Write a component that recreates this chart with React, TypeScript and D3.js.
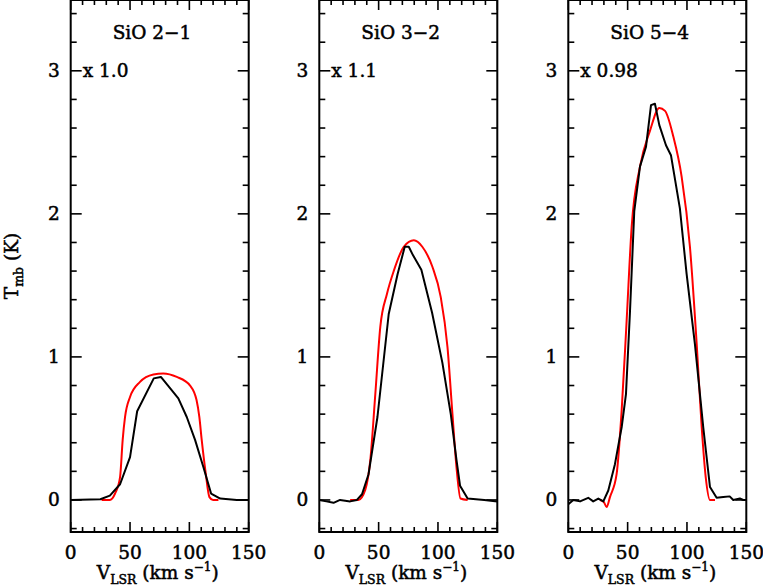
import * as d3 from "d3";

// velocity (km/s) and main-beam temperature (K)
const lines = ["SiO 2\u22121", "SiO 3\u22122", "SiO 5\u22124"];
const scales = ["x 1.0", "x 1.1", "x 0.98"];

const obs21V = [0, 25, 33, 41.6, 50, 56, 70, 76, 82, 90.7, 97.8, 104.8, 111.8, 118.3, 126, 140, 150];
const obs21T = [0, 0.005, 0.03, 0.11, 0.3, 0.62, 0.85, 0.86, 0.8, 0.71, 0.58, 0.42, 0.23, 0.045, 0.01, 0, 0];
const mod21V = [26, 33, 37.4, 41.6, 43.8, 45.8, 50, 58.4, 69.7, 78, 89.4, 100.6, 106, 108.4, 110.4, 113.8, 116.9, 120, 124.5];
const mod21T = [0, 0, 0.045, 0.16, 0.42, 0.58, 0.72, 0.825, 0.877, 0.884, 0.86, 0.8, 0.7, 0.58, 0.42, 0.185, 0.02, 0, 0];

const obs32V = [0, 6, 12, 17.5, 21.8, 26, 31.7, 36, 41.5, 49, 58.5, 66, 72, 75.4, 79, 86, 95, 103.7, 110.8, 115.6, 118.6, 125, 139, 150];
const obs32T = [0, -0.01, -0.02, 0, -0.005, -0.01, 0, 0.04, 0.18, 0.58, 1.3, 1.58, 1.77, 1.77, 1.71, 1.61, 1.31, 0.96, 0.6, 0.28, 0.1, 0.01, 0, -0.01];
const mod32V = [26, 33, 38.7, 43, 47.2, 51.4, 57, 62.7, 71.2, 79.7, 86.8, 95.3, 102.3, 108, 112.2, 115.6, 119, 125];
const mod32T = [0, 0, 0.07, 0.28, 0.74, 1.21, 1.44, 1.6, 1.77, 1.815, 1.77, 1.63, 1.42, 1.07, 0.6, 0.23, 0.01, 0];

const obs54V = [0, 4.2, 9.9, 16.8, 21, 25.3, 29.5, 33.7, 39.3, 45, 48.6, 52, 55.6, 60.4, 65.5, 69.7, 73, 76.7, 82.3, 86.5, 94, 99.7, 106.7, 113.7, 119.4, 125, 130.6, 136, 139, 144.6, 147.4, 150];
const obs54T = [-0.03, 0, -0.01, 0.015, -0.01, 0.01, -0.01, 0.066, 0.25, 0.51, 0.74, 1.32, 2.02, 2.33, 2.47, 2.76, 2.77, 2.62, 2.48, 2.41, 2.04, 1.58, 1.09, 0.51, 0.09, 0.015, 0.02, 0.025, 0, 0.01, 0, 0];
const mod54V = [26.7, 30, 32.3, 35.1, 40.7, 45, 49.2, 53.4, 60.4, 68.8, 76.7, 81.5, 88.5, 95.5, 102.5, 108.2, 112.4, 115.8, 119.4, 123.6];
const mod54T = [0, -0.015, -0.05, 0.02, 0.18, 0.63, 1.26, 1.91, 2.33, 2.58, 2.74, 2.72, 2.54, 2.26, 1.77, 1.09, 0.51, 0.16, 0, 0];

const obsV = [obs21V, obs32V, obs54V];
const obsT = [obs21T, obs32T, obs54T];
const modV = [mod21V, mod32V, mod54V];
const modT = [mod21T, mod32T, mod54T];

const xTicks = [0, 50, 100, 150];
const yTicks = [0, 1, 2, 3];

const W = 763, H = 586;
const panelX = [70.7, 319.3, 568.3];
const panelW = 178;
const top = 0, bottom = 532;
const font = "'DejaVu Serif', serif";

function Panel({ i }: { i: number }) {
  const x0 = panelX[i];
  const x = d3.scaleLinear().domain([0, 150]).range([x0, x0 + panelW]);
  const y = d3.scaleLinear().domain([-0.224, 3.495]).range([bottom, top]);
  const pts = (v: number[], t: number[]) => v.map((d, k) => [d, t[k]] as [number, number]);
  const lineObs = d3.line<[number, number]>().x(d => x(d[0])).y(d => y(d[1]));
  const lineMod = d3.line<[number, number]>().x(d => x(d[0])).y(d => y(d[1])).curve(d3.curveMonotoneX);
  const xMinor = d3.range(0, 151, 10);
  const yMinor = d3.range(-0.2, 3.5, 0.2).map(v => Math.round(v * 10) / 10);
  const xm = x0 + panelW / 2;
  return (
    <g>
      <clipPath id={"clip" + i}>
        <rect x={x0} y={top} width={panelW} height={bottom - top} />
      </clipPath>
      <g clipPath={`url(#clip${i})`} fill="none" strokeWidth={2} strokeLinejoin="round">
        <path d={lineMod(pts(modV[i], modT[i])) || ""} stroke="#ff0000" />
        <path d={lineObs(pts(obsV[i], obsT[i])) || ""} stroke="#000" />
      </g>
      <g stroke="#000" strokeWidth={1.6}>
        {xMinor.map(v => {
          const len = v % 50 === 0 ? 10 : 5;
          return (
            <g key={"xt" + v}>
              <line x1={x(v)} x2={x(v)} y1={bottom} y2={bottom - len} />
              <line x1={x(v)} x2={x(v)} y1={top} y2={top + len} />
            </g>
          );
        })}
        {yMinor.map(v => {
          const len = Math.abs(v - Math.round(v)) < 1e-6 ? 11 : 6;
          return (
            <g key={"yt" + v}>
              <line x1={x0} x2={x0 + len} y1={y(v)} y2={y(v)} />
              <line x1={x0 + panelW} x2={x0 + panelW - len} y1={y(v)} y2={y(v)} />
            </g>
          );
        })}
      </g>
      <rect x={x0} y={top} width={panelW} height={bottom - top} fill="none" stroke="#000" strokeWidth={2} />
      <g fontFamily={font} fontSize={18.5} fill="#000" stroke="#000" strokeWidth={0.5}>
        {xTicks.map(v => (
          <text key={"xl" + v} x={x(v)} y={559} textAnchor="middle">{v}</text>
        ))}
        {yTicks.map(v => (
          <text key={"yl" + v} x={x0 - 11} y={y(v) + 6.5} textAnchor="end">{v}</text>
        ))}
        <text x={x0 + 42} y={39}>{lines[i]}</text>
        <text x={x0 + 12} y={77}>{scales[i]}</text>
        <text x={xm - 2} y={579} textAnchor="middle">
          V<tspan fontSize={12.5} dy={5}>LSR</tspan>
          <tspan dy={-5}> (km s</tspan>
          <tspan fontSize={12} dy={-8}>{"\u22121"}</tspan>
          <tspan dy={8}>)</tspan>
        </text>
      </g>
    </g>
  );
}

export default function App() {
  return (
    <svg width={W} height={H} style={{ position: "absolute", left: 0, top: 0, background: "#fff" }}>
      <rect width={W} height={H} fill="#fff" />
      {[0, 1, 2].map(i => <Panel key={i} i={i} />)}
      <text transform="translate(18,266) rotate(-90)" fontFamily={font} fontSize={18.5} textAnchor="middle" stroke="#000" strokeWidth={0.5}>
        T<tspan fontSize={12.5} dy={5}>mb</tspan>
        <tspan dy={-5}> (K)</tspan>
      </text>
    </svg>
  );
}
